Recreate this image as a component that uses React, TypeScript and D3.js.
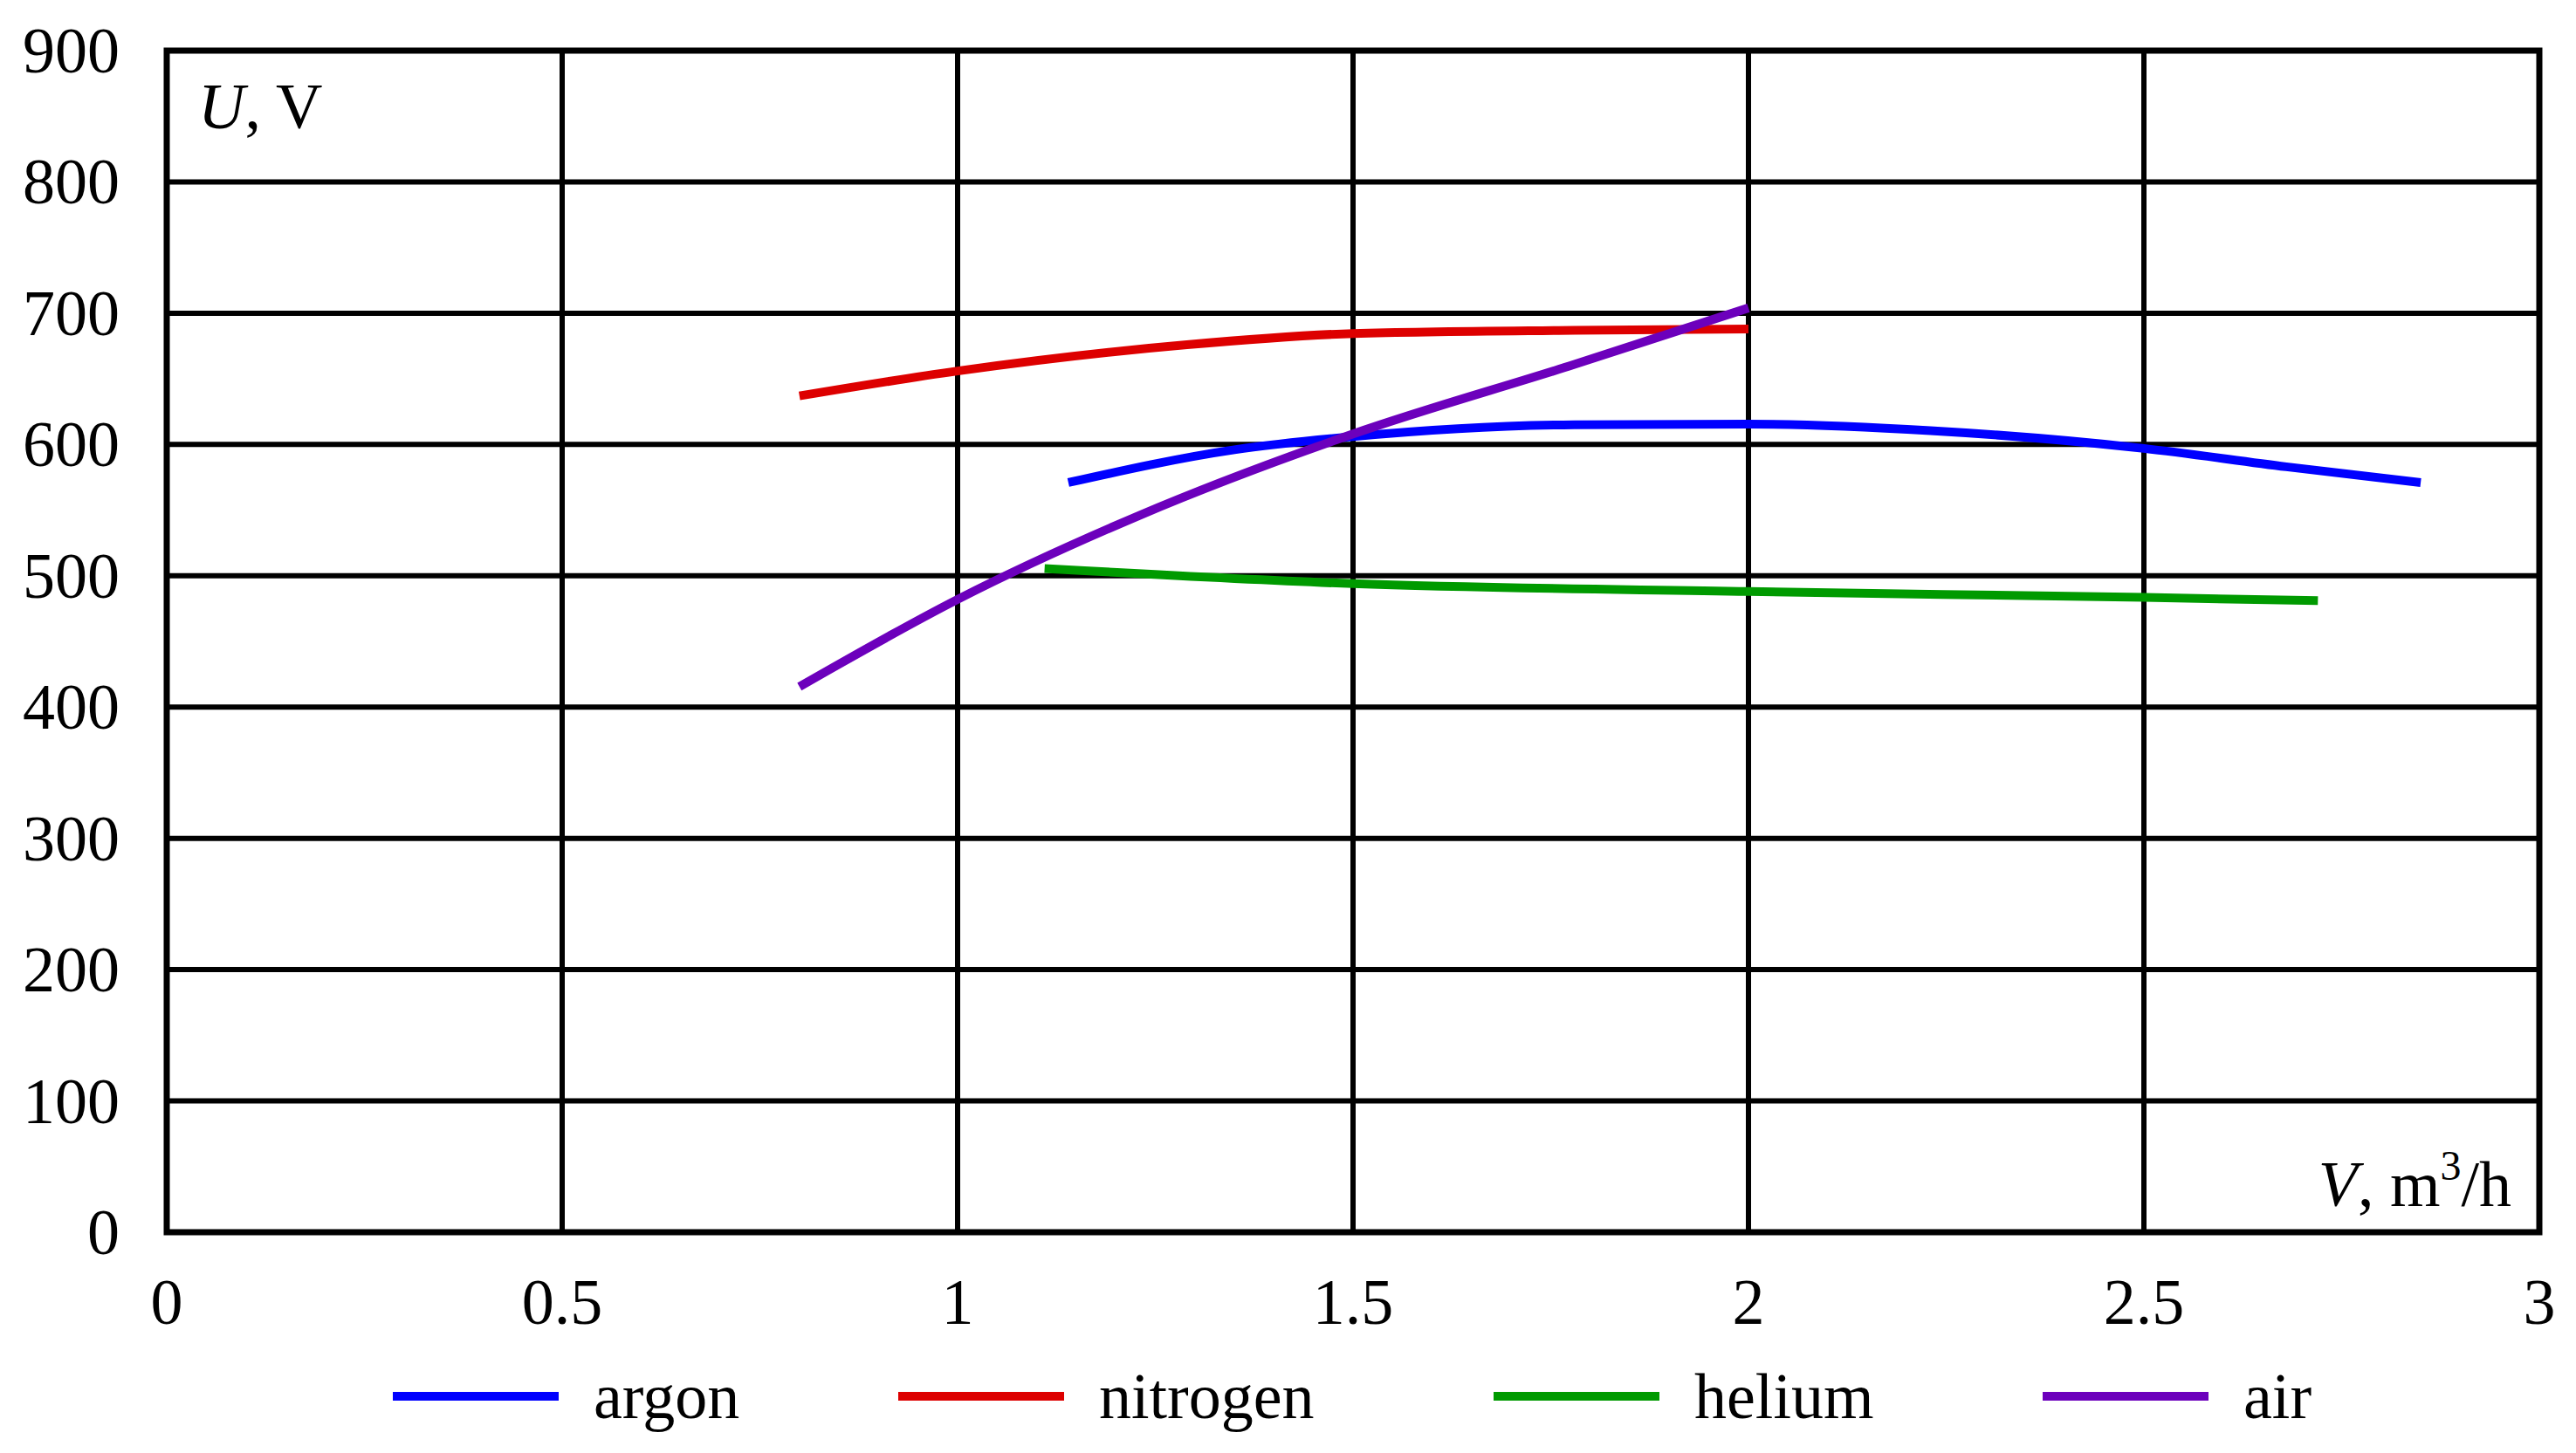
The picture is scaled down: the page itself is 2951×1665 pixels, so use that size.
import { useEffect, useRef } from "react";
import * as d3 from "d3";

// flow rate (m3/h) and voltage (V)
const argonV = [1.14, 1.35, 1.5, 1.78, 2.0, 2.23, 2.5, 2.68, 2.85];
const argonU = [571, 596, 606, 615, 615.5, 610.5, 597, 583, 571];

const nitrogenV = [0.8, 1.0, 1.29, 1.5, 1.78, 2.0];
const nitrogenU = [637, 656, 676, 684.5, 687, 688];

const heliumV = [1.11, 1.5, 2.0, 2.5, 2.72];
const heliumU = [505.5, 494, 488, 483.5, 481];

const airV = [0.8, 1.0, 1.23, 1.5, 1.78, 2.0];
const airU = [415.5, 482, 546, 608, 661, 704];

const seriesNames = ["argon", "nitrogen", "helium", "air"];
const seriesColors = ["#0000ff", "#dd0000", "#009a00", "#6c00bc"];

const xTicks = [0, 0.5, 1, 1.5, 2, 2.5, 3];
const yTicks = [0, 100, 200, 300, 400, 500, 600, 700, 800, 900];

const W = 2951;
const H = 1665;
const FONT = "'Liberation Serif', 'DejaVu Serif', serif";

export default function App() {
  const ref = useRef<SVGSVGElement>(null);

  useEffect(() => {
    const svg = d3.select(ref.current);
    svg.selectAll("*").remove();

    const m = { left: 191, right: 2909, top: 58, bottom: 1412 };
    const x = d3.scaleLinear().domain([0, 3]).range([m.left, m.right]);
    const y = d3.scaleLinear().domain([0, 900]).range([m.bottom, m.top]);

    svg.append("rect").attr("width", W).attr("height", H).attr("fill", "#fff");

    // grid
    const grid = svg.append("g").attr("stroke", "#000").attr("stroke-width", 6);
    grid
      .selectAll("line.h")
      .data(yTicks.slice(1, -1))
      .join("line")
      .attr("x1", m.left)
      .attr("x2", m.right)
      .attr("y1", (d) => y(d))
      .attr("y2", (d) => y(d));
    grid
      .selectAll("line.v")
      .data(xTicks.slice(1, -1))
      .join("line")
      .attr("class", "v")
      .attr("x1", (d) => x(d))
      .attr("x2", (d) => x(d))
      .attr("y1", m.top)
      .attr("y2", m.bottom);

    // frame
    svg
      .append("rect")
      .attr("x", m.left)
      .attr("y", m.top)
      .attr("width", m.right - m.left)
      .attr("height", m.bottom - m.top)
      .attr("fill", "none")
      .attr("stroke", "#000")
      .attr("stroke-width", 7);

    // tick labels
    svg
      .append("g")
      .selectAll("text")
      .data(yTicks)
      .join("text")
      .attr("x", 137)
      .attr("y", (d) => y(d) + 25)
      .attr("text-anchor", "end")
      .attr("font-family", FONT)
      .attr("font-size", 74)
      .text((d) => d);

    svg
      .append("g")
      .selectAll("text")
      .data(xTicks)
      .join("text")
      .attr("x", (d) => x(d))
      .attr("y", 1517)
      .attr("text-anchor", "middle")
      .attr("font-family", FONT)
      .attr("font-size", 74)
      .text((d) => d);

    // axis titles inside the frame
    const yt = svg
      .append("text")
      .attr("x", 227)
      .attr("y", 147)
      .attr("font-family", FONT)
      .attr("font-size", 74);
    yt.append("tspan").attr("font-style", "italic").text("U");
    yt.append("tspan").text(", V");

    const xt = svg
      .append("text")
      .attr("x", 2877)
      .attr("y", 1382)
      .attr("text-anchor", "end")
      .attr("font-family", FONT)
      .attr("font-size", 74);
    xt.append("tspan").attr("font-style", "italic").text("V");
    xt.append("tspan").text(", m");
    xt.append("tspan").attr("font-size", 48).attr("dy", -30).text("3");
    xt.append("tspan").attr("dy", 30).text("/h");

    // curves
    const series = [
      d3.zip(argonV, argonU),
      d3.zip(nitrogenV, nitrogenU),
      d3.zip(heliumV, heliumU),
      d3.zip(airV, airU),
    ];
    const line = d3
      .line<number[]>()
      .x((d) => x(d[0]))
      .y((d) => y(d[1]))
      .curve(d3.curveMonotoneX);

    svg
      .append("g")
      .selectAll("path")
      .data(series)
      .join("path")
      .attr("d", (d) => line(d))
      .attr("fill", "none")
      .attr("stroke", (_, i) => seriesColors[i])
      .attr("stroke-width", 10);

    // legend
    const legendX = [450, 1029, 1711, 2340];
    const lg = svg
      .append("g")
      .selectAll("g")
      .data(seriesNames)
      .join("g")
      .attr("transform", (_, i) => `translate(${legendX[i]},1600)`);
    lg.append("line")
      .attr("x1", 0)
      .attr("x2", 190)
      .attr("stroke", (_, i) => seriesColors[i])
      .attr("stroke-width", 10);
    lg.append("text")
      .attr("x", 230)
      .attr("y", 25)
      .attr("font-family", FONT)
      .attr("font-size", 74)
      .text((d) => d);
  }, []);

  return (
    <svg
      ref={ref}
      width={W}
      height={H}
      style={{ position: "absolute", left: 0, top: 0, display: "block" }}
    />
  );
}
